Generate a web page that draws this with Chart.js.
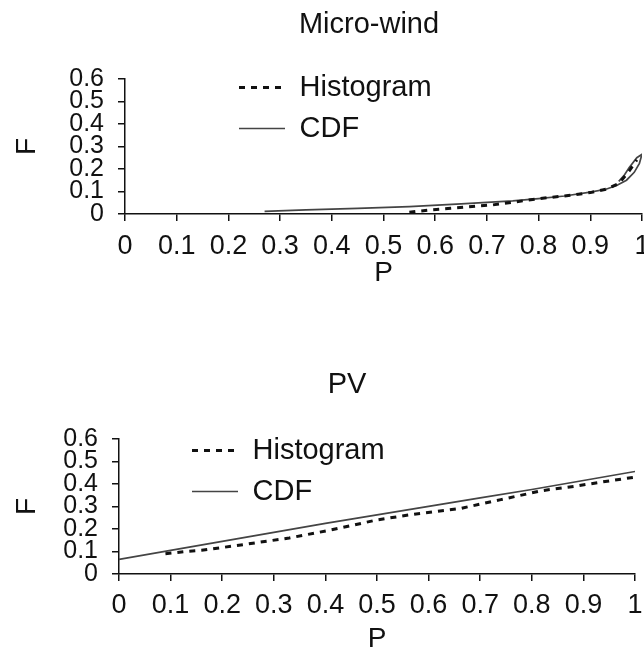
<!DOCTYPE html>
<html>
<head>
<meta charset="utf-8">
<script src="https://cdn.jsdelivr.net/npm/chart.js@4/dist/chart.umd.min.js"></script>
<style>
  html, body { margin: 0; padding: 0; background: #fff; }
  body { width: 644px; height: 656px; position: relative; overflow: hidden; }
  .box { position: absolute; left: 0; width: 644px; }
  #topBox { top: 0; height: 300px; }
  #botBox { top: 330px; height: 326px; }
</style>
</head>
<body>
<div class="box" id="topBox"><canvas id="windChart"></canvas></div>
<div class="box" id="botBox"><canvas id="pvChart"></canvas></div>
<script>
/* ================= DATA ================= */

const seriesNames = ["Histogram", "CDF"];
const xTickLabels = ["0", "0.1", "0.2", "0.3", "0.4", "0.5", "0.6", "0.7", "0.8", "0.9", "1"];
const yTickLabels = ["0", "0.1", "0.2", "0.3", "0.4", "0.5", "0.6"];

// Micro-wind
const windHistP = [0.55, 0.59, 0.63, 0.68, 0.71, 0.75, 0.80, 0.85, 0.90, 0.93, 0.955, 0.975, 0.99];
const windHistF = [0.008, 0.018, 0.025, 0.035, 0.04, 0.052, 0.068, 0.08, 0.095, 0.11, 0.135, 0.19, 0.24];
const windCdfP = [0.27, 0.35, 0.45, 0.55, 0.65, 0.75, 0.80, 0.85, 0.90, 0.93, 0.95, 0.97, 0.985, 0.995, 1.0, 0.99, 0.975, 0.965, 0.955];
const windCdfF = [0.012, 0.018, 0.025, 0.033, 0.045, 0.058, 0.068, 0.08, 0.097, 0.11, 0.125, 0.15, 0.185, 0.225, 0.265, 0.25, 0.205, 0.17, 0.145];

// PV
const pvHistP = [0.09, 0.13, 0.16, 0.24, 0.33, 0.41, 0.50, 0.57, 0.66, 0.74, 0.77, 0.82, 0.885, 0.955, 1.0];
const pvHistF = [0.09, 0.1, 0.105, 0.13, 0.16, 0.195, 0.24, 0.265, 0.29, 0.33, 0.345, 0.37, 0.39, 0.415, 0.43];
const pvCdfP = [0, 0.1, 0.2, 0.3, 0.4, 0.5, 0.6, 0.7, 0.8, 0.9, 1.0];
const pvCdfF = [0.065, 0.105, 0.145, 0.185, 0.225, 0.262, 0.3, 0.338, 0.375, 0.415, 0.455];

/* ================= HELPERS ================= */

const FONT = "'Liberation Sans', Arial, sans-serif";
const INK = "#111";

const pairs = (xs, ys) => xs.map((x, i) => ({ x, y: ys[i] }));

// moves title / legend to where the original figure has them
const placeBoxes = {
  id: "placeBoxes",
  afterLayout(chart, args, opts) {
    const t = chart.titleBlock;
    t.left = opts.titleX - 300;
    t.right = opts.titleX + 300;
    const lg = chart.legend;
    lg.left = opts.legendX;
    lg.top = opts.legendY;
    lg.right = chart.chartArea.right;
    lg.bottom = chart.chartArea.bottom;
  }
};

// legend samples taken from the line style, not the point style
const legendItems = chart => chart.data.datasets.map((d, i) => ({
  text: d.label,
  datasetIndex: i,
  fillStyle: d.borderColor,
  strokeStyle: d.borderColor,
  lineWidth: d.borderWidth,
  lineDash: d.borderDash || [],
  lineCap: "butt",
  pointStyle: "line",
  fontColor: INK,
  hidden: false
}));

function makeChart(id, s) {
  return new Chart(document.getElementById(id).getContext("2d"), {
    type: "line",
    data: {
      datasets: [{
        label: seriesNames[0],
        data: pairs(s.histP, s.histF),
        borderColor: "#111",
        borderWidth: 3,
        borderDash: [6, 6],
        pointRadius: 0,
        fill: false
      }, {
        label: seriesNames[1],
        data: pairs(s.cdfP, s.cdfF),
        borderColor: "#444",
        borderWidth: 1.7,
        pointRadius: 0,
        fill: false
      }]
    },
    options: {
      responsive: true,
      maintainAspectRatio: false,
      animation: false,
      layout: { padding: { left: 0, right: s.padRight, top: 0, bottom: 0 } },
      plugins: {
        tooltip: { enabled: false },
        title: {
          display: true,
          text: s.title,
          color: INK,
          font: { family: FONT, size: 29, weight: "normal" },
          padding: { top: s.titleTop, bottom: s.titleBottom }
        },
        legend: {
          position: "chartArea",
          align: "start",
          labels: {
            usePointStyle: true,
            pointStyle: "line",
            pointStyleWidth: 46,
            boxWidth: 46,
            padding: 12,
            color: INK,
            font: { family: FONT, size: 29 },
            generateLabels: legendItems
          }
        },
        placeBoxes: { titleX: s.titleX, legendX: s.legendX, legendY: s.legendY }
      },
      scales: {
        x: {
          type: "linear",
          min: 0, max: 1,
          afterFit: sc => { sc.height = s.xBoxH; sc.paddingLeft = 0; sc.paddingRight = 0; },
          ticks: {
            stepSize: 0.1, autoSkip: false, maxRotation: 0,
            padding: s.xTickPad, color: INK,
            font: { family: FONT, size: 27 },
            callback: (v, i) => xTickLabels[i]
          },
          grid: { drawOnChartArea: false, drawTicks: true, tickLength: 7, color: INK, lineWidth: 1.5 },
          border: { display: true, color: INK, width: 1.5 },
          title: {
            display: true, text: "P", color: INK,
            font: { family: FONT, size: 28 },
            padding: { top: 0, bottom: s.pTitlePad }
          }
        },
        y: {
          min: 0, max: 0.6,
          afterFit: sc => { sc.width = s.yBoxW; },
          ticks: {
            stepSize: 0.1, autoSkip: false,
            padding: 14, color: INK,
            font: { family: FONT, size: 25 },
            callback: (v, i) => yTickLabels[i]
          },
          grid: { drawOnChartArea: false, drawTicks: true, tickLength: 7, color: INK, lineWidth: 1.5 },
          border: { display: true, color: INK, width: 1.5 },
          title: {
            display: true, text: "F", color: INK,
            font: { family: FONT, size: 28 },
            padding: { top: 10, bottom: 0 }
          }
        }
      }
    },
    plugins: [placeBoxes]
  });
}

/* ================= CHARTS ================= */

makeChart("windChart", {
  title: "Micro-wind",
  histP: windHistP, histF: windHistF, cdfP: windCdfP, cdfF: windCdfF,
  titleTop: 8, titleBottom: 36, titleX: 369,
  legendX: 227, legendY: 61,
  yBoxW: 125, xBoxH: 86, padRight: 2,
  xTickPad: 9, pTitlePad: 10
});

makeChart("pvChart", {
  title: "PV",
  histP: pvHistP, histF: pvHistF, cdfP: pvCdfP, cdfF: pvCdfF,
  titleTop: 38, titleBottom: 36, titleX: 347,
  legendX: 180, legendY: 94,
  yBoxW: 119, xBoxH: 82, padRight: 9,
  xTickPad: 8, pTitlePad: 0
});
</script>
</body>
</html>
